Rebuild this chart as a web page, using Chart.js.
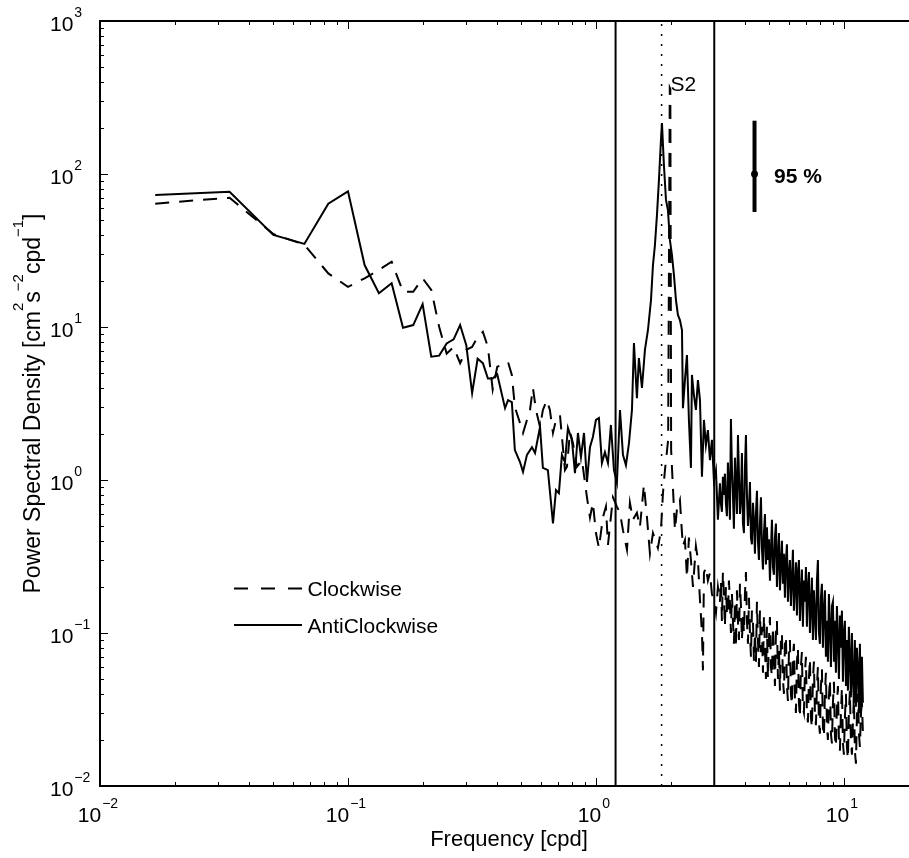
<!DOCTYPE html>
<html>
<head>
<meta charset="utf-8">
<script src="https://cdn.jsdelivr.net/npm/chart.js@4.4.1/dist/chart.umd.min.js"></script>
<style>
  html, body { margin: 0; padding: 0; background: #fff; }
  #wrap { width: 909px; height: 858px; }
</style>
</head>
<body>
<div id="wrap"><canvas id="psdChart" width="909" height="858"></canvas></div>
<script>
// Clockwise spectrum, low and middle frequencies (cpd, cm^2 s^-2 cpd^-1)
const cwFreq = [
  0.0167, 0.0333, 0.05, 0.0667, 0.0833, 0.1, 0.1167, 0.1333, 0.15, 0.1667, 0.1833, 0.2,
  0.2167, 0.2333, 0.25, 0.2667, 0.2833, 0.3, 0.3167, 0.3333, 0.35, 0.3667, 0.3833, 0.4,
  0.442, 0.458, 0.471, 0.494, 0.508, 0.527, 0.542, 0.557, 0.573, 0.595, 0.611, 0.634,
  0.652, 0.671, 0.690, 0.716, 0.750, 0.764, 0.786, 0.808, 0.838, 0.878, 0.920, 0.946,
  0.972, 1.0, 1.028, 1.067, 1.097, 1.118, 1.171, 1.215, 1.250, 1.285, 1.334, 1.371,
  1.410, 1.463, 1.504, 1.561, 1.606, 1.651, 1.698, 1.778, 1.829, 1.863, 1.898, 1.955,
  1.985, 1.995, 2.010, 2.083, 2.121, 2.181, 2.223, 2.243, 2.285, 2.328, 2.371, 2.416,
  2.462, 2.530, 2.578, 2.627, 2.676, 2.701, 2.726, 2.776, 2.828, 2.882, 2.936, 2.990,
  3.047, 3.104
];
const cwPsd = [
  64, 70, 40.5, 34.5, 22.4, 18.3, 20.8, 23.6, 26.7, 17, 17, 20.8,
  17.5, 10, 6.7, 7.4, 5.8, 7.1, 7.4, 8.6, 9.3, 7.4, 3.9, 5.5,
  5.9, 4.86, 3.0, 2.36, 2.03, 2.47, 2.87, 4.0, 2.87, 2.22, 2.87, 3.33,
  2.87, 2.03, 2.47, 2.66, 1.16, 1.22, 2.06, 1.74, 1.22, 1.35, 0.77, 0.57,
  0.71, 0.45, 0.36, 0.57, 0.67, 0.376, 0.77, 0.67, 0.61, 0.47, 0.35, 0.71,
  0.55, 0.61, 0.49, 0.93, 0.57, 0.33, 0.45, 0.36, 0.47, 0.82, 1.16, 1.83,
  365, 358, 1.57, 0.47, 0.64, 0.74, 0.45, 0.37, 0.405, 0.23, 0.42, 0.30,
  0.20, 0.37, 0.30, 0.164, 0.10, 0.057, 0.247, 0.27, 0.22, 0.247, 0.18, 0.164,
  0.135, 0.20
];

// Anticlockwise spectrum, low and middle frequencies
const acwFreq = [
  0.0167, 0.0333, 0.05, 0.0667, 0.0833, 0.1, 0.1167, 0.1333, 0.15, 0.1667, 0.1833, 0.2,
  0.2167, 0.2333, 0.25, 0.2667, 0.2833, 0.3, 0.3167, 0.3333, 0.35, 0.3667, 0.3833, 0.4,
  0.430, 0.442, 0.458, 0.471, 0.494, 0.508, 0.527, 0.552, 0.568, 0.595, 0.611, 0.640,
  0.671, 0.690, 0.709, 0.729, 0.750, 0.771, 0.800, 0.823, 0.846, 0.870, 0.895, 0.920,
  0.946, 0.972, 1.0, 1.028, 1.057, 1.087, 1.118, 1.149, 1.182, 1.215, 1.250, 1.285,
  1.321, 1.359, 1.397, 1.423, 1.463, 1.490, 1.533, 1.576, 1.621, 1.667, 1.698, 1.729,
  1.762, 1.795, 1.829, 1.846, 1.880, 1.916, 1.951, 1.987, 2.025, 2.063, 2.102, 2.141,
  2.181, 2.223, 2.243, 2.285, 2.328, 2.371, 2.416, 2.438, 2.484, 2.530, 2.578, 2.627,
  2.676, 2.726, 2.776, 2.828, 2.882, 2.936, 2.990, 3.047, 3.104
];
const acwPsd = [
  73, 76.6, 40, 34.9, 64, 77, 25.4, 16.6, 19.3, 9.9, 10.3, 14.1,
  6.4, 6.5, 7.8, 8.3, 10.3, 7.6, 3.7, 6.2, 5.8, 4.6, 4.6, 4.9,
  2.95, 3.33, 3.23, 1.57, 1.31, 1.13, 1.46, 1.64, 1.50, 2.22, 1.20, 1.16,
  0.52, 0.86, 0.82, 1.46, 1.31, 2.19, 1.83, 1.11, 2.03, 1.41, 2.03, 0.97,
  1.64, 1.91, 2.47, 2.54, 1.29, 1.52, 1.29, 2.29, 1.16, 0.96, 2.87, 1.46,
  1.25, 1.74, 2.87, 7.85, 3.43, 6.27, 4.0, 7.08, 9.56, 15.0, 25.4, 34.2,
  53.8, 91.5, 167, 215, 114, 67.7, 58.2, 37.1, 29.6, 21.9, 15.0, 12.0,
  11.1, 9.56, 2.95, 4.5, 6.56, 2.47, 1.20, 4.86, 3.59, 2.87, 4.5, 3.33,
  1.05, 2.47, 1.69, 2.12, 1.35, 1.83, 1.0, 1.16, 0.55
];

// High-frequency part (3.16 - 11.9 cpd), shared frequencies
const bandFreq = [
  3.162, 3.192, 3.221, 3.251, 3.281, 3.312, 3.343, 3.374, 3.406, 3.438, 3.470, 3.502,
  3.535, 3.568, 3.601, 3.635, 3.669, 3.703, 3.738, 3.773, 3.808, 3.844, 3.879, 3.916,
  3.952, 3.989, 4.026, 4.064, 4.102, 4.140, 4.179, 4.218, 4.256, 4.297, 4.337, 4.377,
  4.418, 4.459, 4.500, 4.543, 4.585, 4.628, 4.671, 4.715, 4.759, 4.803, 4.848, 4.893,
  4.938, 4.984, 5.031, 5.078, 5.126, 5.173, 5.221, 5.270, 5.319, 5.369, 5.419, 5.469,
  5.520, 5.571, 5.623, 5.676, 5.729, 5.782, 5.836, 5.891, 5.946, 6.001, 6.057, 6.113,
  6.170, 6.228, 6.286, 6.345, 6.404, 6.464, 6.524, 6.585, 6.646, 6.707, 6.769, 6.833,
  6.897, 6.962, 7.027, 7.092, 7.158, 7.225, 7.293, 7.361, 7.430, 7.499, 7.568, 7.639,
  7.711, 7.783, 7.855, 7.928, 8.002, 8.077, 8.152, 8.229, 8.306, 8.383, 8.460, 8.539,
  8.619, 8.699, 8.780, 8.863, 8.946, 9.030, 9.114, 9.199, 9.284, 9.371, 9.458, 9.547,
  9.636, 9.726, 9.816, 9.908, 10.00, 10.09, 10.19, 10.28, 10.38, 10.47, 10.57, 10.67,
  10.77, 10.87, 10.97, 11.07, 11.18, 11.28, 11.39, 11.50, 11.60, 11.71, 11.82, 11.93
];
const cwBandPsd = [
  0.16, 0.22, 0.12, 0.25, 0.18, 0.11, 0.20, 0.14, 0.13, 0.22, 0.16, 0.10,
  0.18, 0.12, 0.085, 0.16, 0.08, 0.19, 0.12, 0.09, 0.21, 0.15, 0.09, 0.13,
  0.10, 0.18, 0.25, 0.12, 0.085, 0.17, 0.10, 0.07, 0.14, 0.12, 0.065, 0.10,
  0.065, 0.16, 0.09, 0.06, 0.14, 0.075, 0.11, 0.055, 0.13, 0.08, 0.05, 0.11,
  0.05, 0.09, 0.127, 0.06, 0.052, 0.11, 0.07, 0.045, 0.10, 0.12, 0.05, 0.08,
  0.042, 0.09, 0.10, 0.05, 0.04, 0.085, 0.095, 0.045, 0.036, 0.075, 0.09, 0.04,
  0.034, 0.07, 0.085, 0.038, 0.03, 0.065, 0.08, 0.035, 0.028, 0.06, 0.075, 0.032,
  0.03, 0.055, 0.07, 0.03, 0.026, 0.05, 0.068, 0.028, 0.024, 0.05, 0.065, 0.03,
  0.025, 0.045, 0.06, 0.026, 0.022, 0.045, 0.058, 0.024, 0.021, 0.04, 0.055, 0.025,
  0.02, 0.038, 0.05, 0.022, 0.019, 0.035, 0.048, 0.021, 0.018, 0.033, 0.045, 0.02,
  0.017, 0.03, 0.044, 0.019, 0.016, 0.028, 0.04, 0.018, 0.015, 0.03, 0.042, 0.02,
  0.016, 0.026, 0.038, 0.017, 0.014, 0.028, 0.04, 0.022, 0.018, 0.03, 0.035, 0.022
];
const acwBandPsd = [
  0.95, 0.70, 0.62, 1.05, 0.80, 1.1, 0.70, 0.58, 1.3, 0.90, 0.55, 2.5,
  1.2, 0.80, 0.48, 1.4, 0.95, 0.60, 1.97, 1.1, 0.60, 0.75, 1.5, 0.52,
  0.45, 1.2, 1.97, 0.80, 0.50, 0.65, 0.97, 0.42, 0.38, 0.71, 0.55, 0.33,
  0.60, 0.85, 0.40, 0.30, 0.52, 0.77, 0.36, 0.26, 0.45, 0.60, 0.28, 0.49,
  0.30, 0.41, 0.22, 0.35, 0.55, 0.27, 0.24, 0.42, 0.52, 0.20, 0.31, 0.45,
  0.19, 0.28, 0.40, 0.21, 0.33, 0.17, 0.30, 0.38, 0.16, 0.24, 0.30, 0.15,
  0.22, 0.35, 0.14, 0.20, 0.29, 0.13, 0.25, 0.30, 0.12, 0.18, 0.26, 0.11,
  0.22, 0.16, 0.27, 0.11, 0.20, 0.25, 0.10, 0.15, 0.23, 0.09, 0.19, 0.13,
  0.09, 0.22, 0.30, 0.10, 0.085, 0.17, 0.21, 0.08, 0.14, 0.19, 0.07, 0.12,
  0.065, 0.18, 0.11, 0.06, 0.15, 0.16, 0.065, 0.12, 0.055, 0.15, 0.09, 0.05,
  0.13, 0.08, 0.14, 0.048, 0.10, 0.12, 0.045, 0.09, 0.042, 0.11, 0.07, 0.038,
  0.10, 0.05, 0.035, 0.09, 0.033, 0.08, 0.06, 0.03, 0.085, 0.028, 0.07, 0.035
];

// reference lines and the 95 % confidence bar
const bandEdges = [1.2, 3.0];
const refFreq = 1.84;
const ciFreq = 4.36;
const ciRange = [56.5, 223];
const ciMid = 100;

// axis decades
const xTickExps = [-2, -1, 0, 1];
const yTickExps = [-2, -1, 0, 1, 2, 3];

const FONT = '"Liberation Sans", Arial, Helvetica, sans-serif';

const toPoints = (fs, vs) => fs.map((f, i) => ({ x: f, y: vs[i] }));

function tenPow(ctx, x, base, exp, center) {
  const e = exp < 0 ? '\u2212' + Math.abs(exp) : String(exp);
  ctx.font = '21px ' + FONT;
  const w10 = ctx.measureText('10').width;
  ctx.font = '14px ' + FONT;
  const we = ctx.measureText(e).width;
  const start = center ? x - (w10 + 1 + we) / 2 - 2 : x;
  ctx.font = '21px ' + FONT;
  ctx.fillText('10', start, base);
  ctx.font = '14px ' + FONT;
  ctx.fillText(e, start + w10 + 1, base - 13.5);
}

const axesPlugin = {
  id: 'matlabAxes',
  afterDraw(chart) {
    const ctx = chart.ctx;
    const xs = chart.scales.x, ys = chart.scales.y;
    const a = chart.chartArea;
    ctx.save();
    ctx.strokeStyle = '#000';
    ctx.fillStyle = '#000';
    ctx.lineWidth = 2;

    // box (left, top, bottom); right edge lies outside the picture
    ctx.beginPath();
    ctx.moveTo(a.right, a.top); ctx.lineTo(a.left, a.top);
    ctx.lineTo(a.left, a.bottom); ctx.lineTo(a.right, a.bottom);
    ctx.stroke();

    // ticks point inward
    ctx.lineWidth = 1;
    xTickExps.forEach(p => {
      for (let m = 1; m <= 9; m++) {
        const v = m * Math.pow(10, p);
        if (v < xs.min || v > xs.max) continue;
        const px = Math.round(xs.getPixelForValue(v)) + 0.5;
        const len = m === 1 ? 8 : 4;
        ctx.beginPath();
        ctx.moveTo(px, a.bottom); ctx.lineTo(px, a.bottom - len);
        ctx.moveTo(px, a.top); ctx.lineTo(px, a.top + len);
        ctx.stroke();
      }
    });
    yTickExps.forEach(p => {
      for (let m = 1; m <= 9; m++) {
        const v = m * Math.pow(10, p);
        if (v < ys.min || v > ys.max) continue;
        const py = Math.round(ys.getPixelForValue(v)) + 0.5;
        const len = m === 1 ? 8 : 4;
        ctx.beginPath();
        ctx.moveTo(a.left, py); ctx.lineTo(a.left + len, py);
        ctx.stroke();
      }
    });

    // tick labels
    ctx.textBaseline = 'alphabetic';
    ctx.textAlign = 'left';
    xTickExps.forEach(p => {
      tenPow(ctx, xs.getPixelForValue(Math.pow(10, p)), 821.5, p, true);
    });
    yTickExps.forEach(p => {
      tenPow(ctx, 50, ys.getPixelForValue(Math.pow(10, p)) + 9.5, p, false);
    });

    // axis titles
    ctx.font = '22px ' + FONT;
    ctx.textAlign = 'center';
    ctx.fillText('Frequency [cpd]', 509, 846);

    const parts = [
      ['Power Spectral Density [cm', false], ['2', true], ['s', false],
      ['\u22122', true], ['cpd', false], ['\u22121', true], [']', false]
    ];
    ctx.textAlign = 'left';
    let total = 0;
    parts.forEach(([t, sup]) => {
      ctx.font = (sup ? '15px ' : '23px ') + FONT;
      total += ctx.measureText(t).width;
    });
    ctx.save();
    ctx.translate(40, (a.top + a.bottom) / 2);
    ctx.rotate(-Math.PI / 2);
    let cx = -total / 2;
    parts.forEach(([t, sup]) => {
      ctx.font = (sup ? '15px ' : '23px ') + FONT;
      ctx.fillText(t, cx, sup ? -17 : 0);
      cx += ctx.measureText(t).width;
    });
    ctx.restore();

    // annotations
    ctx.font = '21px ' + FONT;
    ctx.fillText('S2', 670.5, 90.5);
    ctx.font = 'bold 21px ' + FONT;
    ctx.fillText('95 %', 774, 183);

    // legend
    ctx.lineWidth = 2;
    ctx.setLineDash([14, 13]);
    ctx.beginPath(); ctx.moveTo(234, 588.5); ctx.lineTo(302, 588.5); ctx.stroke();
    ctx.setLineDash([]);
    ctx.beginPath(); ctx.moveTo(234, 625); ctx.lineTo(302, 625); ctx.stroke();
    ctx.font = '21px ' + FONT;
    ctx.fillText('Clockwise', 307.5, 596);
    ctx.fillText('AntiClockwise', 307.5, 633);
    ctx.restore();
  }
};

const lineStyle = { borderColor: '#000', backgroundColor: '#000', pointRadius: 0, showLine: true, tension: 0, fill: false };

new Chart(document.getElementById('psdChart').getContext('2d'), {
  type: 'scatter',
  data: {
    datasets: [
      { ...lineStyle, label: 'Clockwise',
        data: toPoints(cwFreq.concat(bandFreq), cwPsd.concat(cwBandPsd)),
        borderWidth: 2, borderDash: [14, 10] },
      { ...lineStyle, label: 'AntiClockwise',
        data: toPoints(acwFreq.concat(bandFreq), acwPsd.concat(acwBandPsd)),
        borderWidth: 2 },
      ...bandEdges.map(f => ({ ...lineStyle, label: 'edge', data: [{ x: f, y: 0.01 }, { x: f, y: 1000 }], borderWidth: 2 })),
      { ...lineStyle, label: 'ref', data: [{ x: refFreq, y: 0.01 }, { x: refFreq, y: 1000 }], borderWidth: 1.5, borderDash: [2, 8] },
      { ...lineStyle, label: 'ci', data: [{ x: ciFreq, y: ciRange[0] }, { x: ciFreq, y: ciRange[1] }], borderWidth: 4 },
      { label: 'ciMid', data: [{ x: ciFreq, y: ciMid }], pointRadius: 3.5, pointBackgroundColor: '#000', pointBorderWidth: 0, showLine: false }
    ]
  },
  options: {
    responsive: false,
    animation: false,
    events: [],
    layout: { autoPadding: false, padding: { left: 100, top: 21, right: 0, bottom: 72 } },
    plugins: { legend: { display: false }, tooltip: { enabled: false } },
    scales: {
      x: { type: 'logarithmic', min: 0.01, max: 18.3, display: false },
      y: { type: 'logarithmic', min: 0.01, max: 1000, display: false }
    }
  },
  plugins: [axesPlugin]
});
</script>
</body>
</html>
